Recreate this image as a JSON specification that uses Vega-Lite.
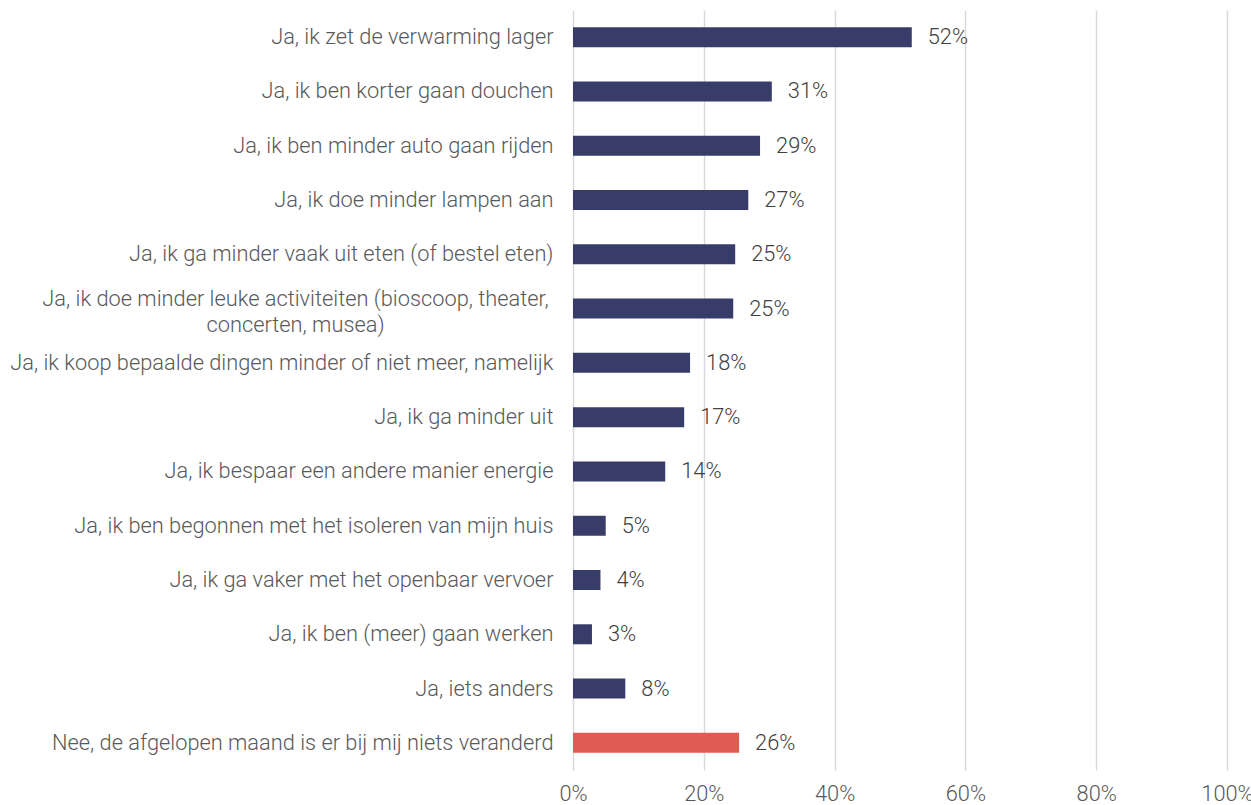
{
  "$schema": "https://vega.github.io/schema/vega-lite/v6.json",
  "autosize": {"type": "none"},
  "padding": {"left": 573, "top": 10, "right": 24, "bottom": 35},
  "width": 654,
  "height": 760,
  "background": "#ffffff",
  "config": {
    "view": {"stroke": null},
    "font": "Roboto"
  },
  "data": {
    "values": [
      {"cat": "Ja, ik zet de verwarming lager", "value": 51.8, "label": "52%", "group": "ja"},
      {"cat": "Ja, ik ben korter gaan douchen", "value": 30.4, "label": "31%", "group": "ja"},
      {"cat": "Ja, ik ben minder auto gaan rijden", "value": 28.6, "label": "29%", "group": "ja"},
      {"cat": "Ja, ik doe minder lampen aan", "value": 26.8, "label": "27%", "group": "ja"},
      {"cat": "Ja, ik ga minder vaak uit eten (of bestel eten)", "value": 24.8, "label": "25%", "group": "ja"},
      {"cat": "Ja, ik doe minder leuke activiteiten (bioscoop, theater,|concerten, musea)", "value": 24.5, "label": "25%", "group": "ja"},
      {"cat": "Ja, ik koop bepaalde dingen minder of niet meer, namelijk", "value": 17.9, "label": "18%", "group": "ja"},
      {"cat": "Ja, ik ga minder uit", "value": 17.0, "label": "17%", "group": "ja"},
      {"cat": "Ja, ik bespaar een andere manier energie", "value": 14.1, "label": "14%", "group": "ja"},
      {"cat": "Ja, ik ben begonnen met het isoleren van mijn huis", "value": 5.0, "label": "5%", "group": "ja"},
      {"cat": "Ja, ik ga vaker met het openbaar vervoer", "value": 4.2, "label": "4%", "group": "ja"},
      {"cat": "Ja, ik ben (meer) gaan werken", "value": 2.9, "label": "3%", "group": "ja"},
      {"cat": "Ja, iets anders", "value": 8.0, "label": "8%", "group": "ja"},
      {"cat": "Nee, de afgelopen maand is er bij mij niets veranderd", "value": 25.4, "label": "26%", "group": "nee"}
    ]
  },
  "encoding": {
    "y": {
      "field": "cat",
      "type": "nominal",
      "sort": null,
      "scale": {"paddingInner": 0, "paddingOuter": 0},
      "axis": {
        "title": null,
        "domain": false,
        "ticks": false,
        "labelExpr": "split(datum.label, '|')",
        "labelFont": "Roboto",
        "labelFontSize": 21.8,
        "labelFontWeight": 300,
        "labelColor": "#595959",
        "labelLimit": 600,
        "labelAlign": {"condition": {"test": "indexof(datum.label, '|') >= 0", "value": "center"}, "value": "right"},
        "labelPadding": {"condition": {"test": "indexof(datum.label, '|') >= 0", "value": 278}, "value": 20},
        "labelOffset": {"condition": {"test": "indexof(datum.label, '|') >= 0", "value": -10}, "value": 0},
        "labelLineHeight": 26
      }
    },
    "x": {
      "field": "value",
      "type": "quantitative",
      "scale": {"domain": [0, 100], "nice": false},
      "axis": {
        "title": null,
        "domain": false,
        "ticks": false,
        "values": [0, 20, 40, 60, 80, 100],
        "labelExpr": "datum.value + '%'",
        "labelFont": "Roboto",
        "labelFontSize": 21.8,
        "labelFontWeight": 300,
        "labelColor": "#595959",
        "labelPadding": 13,
        "labelFlush": false,
        "grid": true,
        "gridColor": "#d9d9d9",
        "gridWidth": 1.5
      }
    }
  },
  "layer": [
    {
      "mark": {"type": "bar", "size": 20},
      "encoding": {
        "color": {
          "field": "group",
          "type": "nominal",
          "scale": {"domain": ["ja", "nee"], "range": ["#383c68", "#e05c52"]},
          "legend": null
        }
      }
    },
    {
      "mark": {"type": "text", "align": "left", "baseline": "middle", "dx": 16, "font": "Roboto", "fontSize": 21.8, "fontWeight": 300, "color": "#404040"},
      "encoding": {
        "text": {"field": "label", "type": "nominal"}
      }
    }
  ]
}
